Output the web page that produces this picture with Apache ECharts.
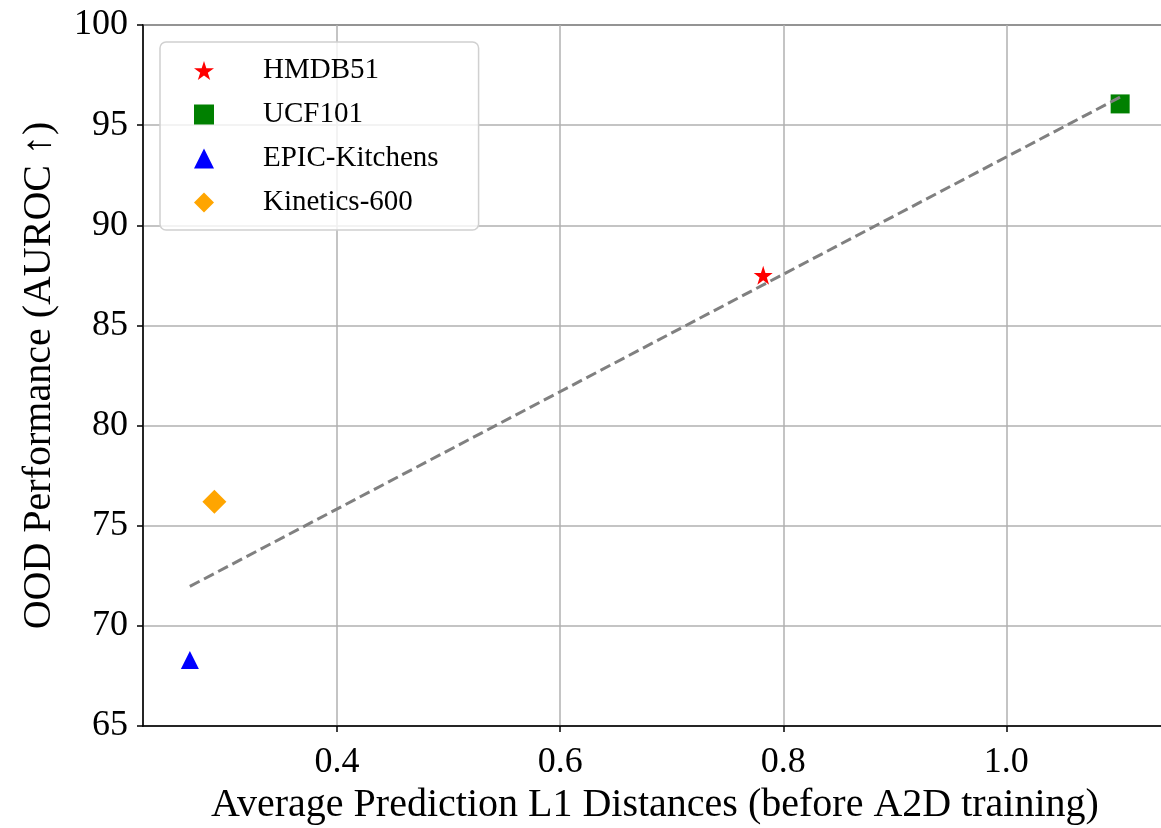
<!DOCTYPE html>
<html>
<head>
<meta charset="utf-8">
<script src="https://cdn.jsdelivr.net/npm/echarts@6/dist/echarts.min.js"></script>
<style>
    html, body { margin: 0; padding: 0; background: #fff; }
    #main { width: 1161px; height: 828px; }
</style>
</head>
<body>
<div id="main"></div>
<script>
// data
var names = ['HMDB51', 'UCF101', 'EPIC-Kitchens', 'Kinetics-600'];
var distX = [0.782, 1.102, 0.268, 0.290];
var aurocY = [87.5, 96.06, 68.3, 76.2];
var colors = ['#ff0000', '#008000', '#0000ff', '#ffa500'];
// fit line end points
var trendX = [0.268, 1.102];
var trendY = [71.97, 96.4];

var starPath = 'path://M50,0 L61.2,34.5 L97.6,34.5 L68.2,55.9 L79.4,90.5 L50,69.1 L20.6,90.5 L31.8,55.9 L2.4,34.5 L38.8,34.5 Z';
var symbols = [starPath, 'rect', 'triangle', 'diamond'];
var symbolSizes = [19, 19, 18, 24];
var legendIcons = [starPath, 'rect', 'triangle', 'diamond'];

var font = '"Liberation Serif", "DejaVu Serif", serif';

var myChart = echarts.init(document.getElementById('main'));

var series = [];
for (var i = 0; i < names.length; i++) {
    series.push({
        name: names[i],
        type: 'scatter',
        symbol: symbols[i],
        symbolSize: symbolSizes[i],
        itemStyle: { color: colors[i], opacity: 1 },
        z: 3,
        data: [[distX[i], aurocY[i]]]
    });
}
// dashed trend line
series.push({
    name: 'fit',
    type: 'line',
    symbol: 'none',
    silent: true,
    z: 4,
    lineStyle: { color: '#808080', width: 3, type: [11, 5] },
    data: [[trendX[0], trendY[0]], [trendX[1], trendY[1]]]
});

var legendData = [];
for (var j = 0; j < names.length; j++) {
    legendData.push({ name: names[j], icon: legendIcons[j] });
}

var option = {
    animation: false,
    grid: {
        left: 143,
        width: 1024,
        top: 25,
        bottom: 102,
        outerBoundsMode: 'none',
        show: true,
        borderColor: '#000',
        borderWidth: 1.5
    },
    legend: {
        orient: 'vertical',
        left: 160,
        top: 42,
        padding: [14, 40, 13, 34],
        itemGap: 15,
        itemWidth: 20,
        itemHeight: 20,
        backgroundColor: 'rgba(255,255,255,0.8)',
        borderColor: '#d0d0d0',
        borderWidth: 1.5,
        borderRadius: 6,
        data: legendData,
        textStyle: {
            fontFamily: font,
            fontSize: 29,
            lineHeight: 24,
            color: '#000',
            padding: [0, 0, 0, 44]
        }
    },
    xAxis: {
        type: 'value',
        min: 0.226,
        max: 1.144,
        name: 'Average Prediction L1 Distances (before A2D training)',
        nameLocation: 'middle',
        nameGap: 57,
        nameTextStyle: { fontFamily: font, fontSize: 40, color: '#000' },
        axisLine: { show: true, lineStyle: { color: '#000', width: 1.5 } },
        axisTick: { show: true, length: 6, lineStyle: { color: '#000', width: 1.5 } },
        axisLabel: {
            fontFamily: font, fontSize: 36, color: '#000', margin: 19,
            showMinLabel: false, showMaxLabel: false,
            formatter: function (v) { return v.toFixed(1); }
        },
        splitLine: { show: true, lineStyle: { color: '#b0b0b0', width: 1.5 } }
    },
    yAxis: {
        type: 'value',
        min: 65,
        max: 100,
        interval: 5,
        name: 'OOD Performance (AUROC \u2191)',
        nameLocation: 'middle',
        nameGap: 84,
        nameTextStyle: { fontFamily: font, fontSize: 40, color: '#000' },
        axisLine: { show: true, lineStyle: { color: '#000', width: 1.5 } },
        axisTick: { show: true, length: 6, lineStyle: { color: '#000', width: 1.5 } },
        axisLabel: { fontFamily: font, fontSize: 36, color: '#000', margin: 15 },
        splitLine: { show: true, lineStyle: { color: '#b0b0b0', width: 1.5 } }
    },
    series: series
};

myChart.setOption(option);
</script>
</body>
</html>
